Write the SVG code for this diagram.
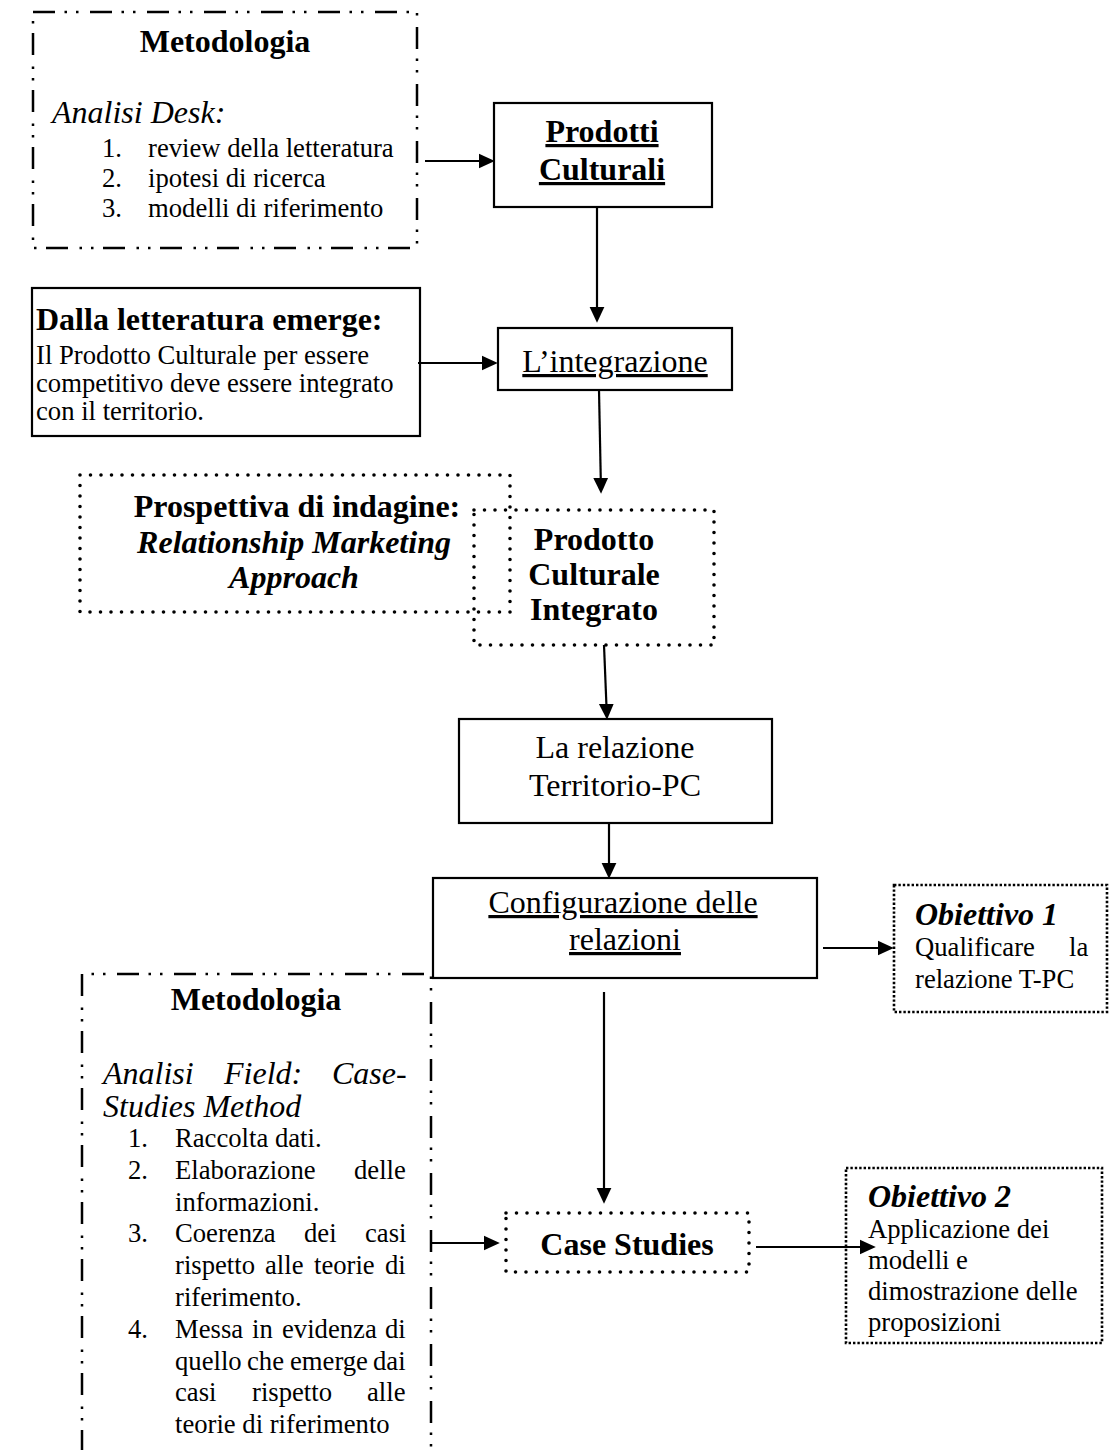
<svg xmlns="http://www.w3.org/2000/svg" width="1109" height="1450" viewBox="0 0 1109 1450">
  <style>
    .solid { fill: #fff; stroke: #000; stroke-width: 2.2; }
    .dots { fill: none; stroke: #000; stroke-width: 3.6; stroke-dasharray: 0 10.5; stroke-linecap: round; }
    .fine { fill: none; stroke: #000; stroke-width: 2.6; stroke-dasharray: 2.4 2; }
    .dashdot { fill: none; stroke: #000; stroke-width: 2.5; stroke-dasharray: 22 9.5 2.5 9 2.5 11.5; }
    .conn line { stroke: #000; stroke-width: 2.2; marker-end: url(#ah); }
    text { font-family: "Liberation Serif", "Times New Roman", serif; fill: #000; }
    .big { font-size: 32px; }
    .sm { font-size: 26.67px; }
    .b { font-weight: bold; }
    .i { font-style: italic; }
    .u { text-decoration: underline; }
    .c { text-anchor: middle; }
  </style>
  <defs>
    <marker id="ah" markerUnits="userSpaceOnUse" markerWidth="16" markerHeight="16" viewBox="0 0 15 14" refX="3" refY="7" orient="auto">
      <path d="M0,0 L15,7 L0,14 z" fill="#000"/>
    </marker>
  </defs>

  <rect width="1109" height="1450" fill="#fff"/>

  <!-- desk analysis methodology -->
  <g id="metodologia-desk">
    <rect class="dashdot" x="33" y="12" width="384" height="236"/>
    <text class="big b c" x="225" y="52">Metodologia</text>
    <text class="big i" x="52" y="123">Analisi Desk:</text>
    <text class="sm" x="102" y="157">1.</text>
    <text class="sm" x="148" y="157">review della letteratura</text>
    <text class="sm" x="102" y="187">2.</text>
    <text class="sm" x="148" y="187">ipotesi di ricerca</text>
    <text class="sm" x="102" y="217">3.</text>
    <text class="sm" x="148" y="217">modelli di riferimento</text>
  </g>

  <g id="prodotti-culturali">
    <rect class="solid" x="494" y="103" width="218" height="104"/>
    <text class="big b c u" x="602" y="142">Prodotti</text>
    <text class="big b c u" x="602" y="180">Culturali</text>
  </g>

  <g id="dalla-letteratura">
    <rect class="solid" x="32" y="288" width="388" height="148"/>
    <text class="big b" x="36" y="330">Dalla letteratura emerge:</text>
    <text class="sm" x="36" y="364">Il Prodotto Culturale per essere</text>
    <text class="sm" x="36" y="392">competitivo deve essere integrato</text>
    <text class="sm" x="36" y="420">con il territorio.</text>
  </g>

  <g id="integrazione">
    <rect class="solid" x="498" y="328" width="234" height="62"/>
    <text class="big c u" x="615" y="372">L’integrazione</text>
  </g>

  <g id="prospettiva">
    <rect class="dots" x="80" y="475" width="430" height="137"/>
    <text class="big b c" x="297" y="517">Prospettiva di indagine:</text>
    <text class="big b i c" x="294" y="553">Relationship Marketing</text>
    <text class="big b i c" x="294" y="588">Approach</text>
  </g>

  <g id="prodotto-integrato">
    <rect class="dots" x="474" y="510" width="240" height="135"/>
    <text class="big b c" x="594" y="550">Prodotto</text>
    <text class="big b c" x="594" y="585">Culturale</text>
    <text class="big b c" x="594" y="620">Integrato</text>
  </g>

  <g id="relazione">
    <rect class="solid" x="459" y="719" width="313" height="104"/>
    <text class="big c" x="615" y="758">La relazione</text>
    <text class="big c" x="615" y="796">Territorio-PC</text>
  </g>

  <g id="configurazione">
    <rect class="solid" x="433" y="878" width="384" height="100"/>
    <text class="big c u" x="623" y="913">Configurazione delle</text>
    <text class="big c u" x="625" y="950">relazioni</text>
  </g>

  <g id="obiettivo-1">
    <rect class="fine" x="894" y="885" width="213" height="127"/>
    <text class="big b i" x="915" y="925">Obiettivo 1</text>
    <text class="sm" y="956"><tspan x="915">Qualificare</tspan><tspan x="1069">la</tspan></text>
    <text class="sm" x="915" y="988">relazione T-PC</text>
  </g>

  <!-- field analysis methodology (box runs off the lower edge) -->
  <g id="metodologia-field">
    <path class="dashdot" d="M82,1452 V974 H431 V1452"/>
    <text class="big b c" x="256" y="1010">Metodologia</text>
    <text class="big i" y="1084"><tspan x="103">Analisi</tspan><tspan x="224">Field:</tspan><tspan x="332">Case-</tspan></text>
    <text class="big i" x="103" y="1117">Studies Method</text>
    <text class="sm" x="128" y="1147">1.</text>
    <text class="sm" x="175" y="1147">Raccolta dati.</text>
    <text class="sm" x="128" y="1179">2.</text>
    <text class="sm" y="1179"><tspan x="175">Elaborazione</tspan><tspan x="354">delle</tspan></text>
    <text class="sm" x="175" y="1211">informazioni.</text>
    <text class="sm" x="128" y="1242">3.</text>
    <text class="sm" y="1242"><tspan x="175">Coerenza</tspan><tspan x="304">dei</tspan><tspan x="365">casi</tspan></text>
    <text class="sm" y="1274"><tspan x="175">rispetto</tspan><tspan x="265">alle</tspan><tspan x="314">teorie</tspan><tspan x="385">di</tspan></text>
    <text class="sm" x="175" y="1306">riferimento.</text>
    <text class="sm" x="128" y="1338">4.</text>
    <text class="sm" y="1338"><tspan x="175">Messa</tspan><tspan x="252">in</tspan><tspan x="282">evidenza</tspan><tspan x="385">di</tspan></text>
    <text class="sm" y="1370"><tspan x="175">quello</tspan><tspan x="247">che</tspan><tspan x="290">emerge</tspan><tspan x="373">dai</tspan></text>
    <text class="sm" y="1401"><tspan x="175">casi</tspan><tspan x="252">rispetto</tspan><tspan x="367">alle</tspan></text>
    <text class="sm" x="175" y="1433">teorie di riferimento</text>
  </g>

  <g id="case-studies">
    <rect class="dots" x="506" y="1213" width="243" height="59"/>
    <text class="big b c" x="627" y="1255">Case Studies</text>
  </g>

  <g id="obiettivo-2">
    <rect class="fine" x="846" y="1168" width="256" height="175"/>
    <text class="big b i" x="868" y="1207">Obiettivo 2</text>
    <text class="sm" x="868" y="1238">Applicazione dei</text>
    <text class="sm" x="868" y="1269">modelli e</text>
    <text class="sm" x="868" y="1300">dimostrazione delle</text>
    <text class="sm" x="868" y="1331">proposizioni</text>
  </g>

  <!-- connectors: each line stops 12px short of its arrow tip -->
  <g id="connectors" class="conn">
    <line x1="425" y1="161" x2="482" y2="161"/>
    <line x1="597" y1="207" x2="597" y2="310"/>
    <line x1="418" y1="363" x2="485" y2="363"/>
    <line x1="599" y1="390" x2="600.8" y2="481"/>
    <line x1="604" y1="645" x2="606.5" y2="707"/>
    <line x1="609" y1="823" x2="609" y2="866"/>
    <line x1="823" y1="948" x2="881" y2="948"/>
    <line x1="604" y1="992" x2="604" y2="1191"/>
    <line x1="432" y1="1243" x2="487" y2="1243"/>
    <line x1="756" y1="1247" x2="863" y2="1247"/>
  </g>
</svg>
